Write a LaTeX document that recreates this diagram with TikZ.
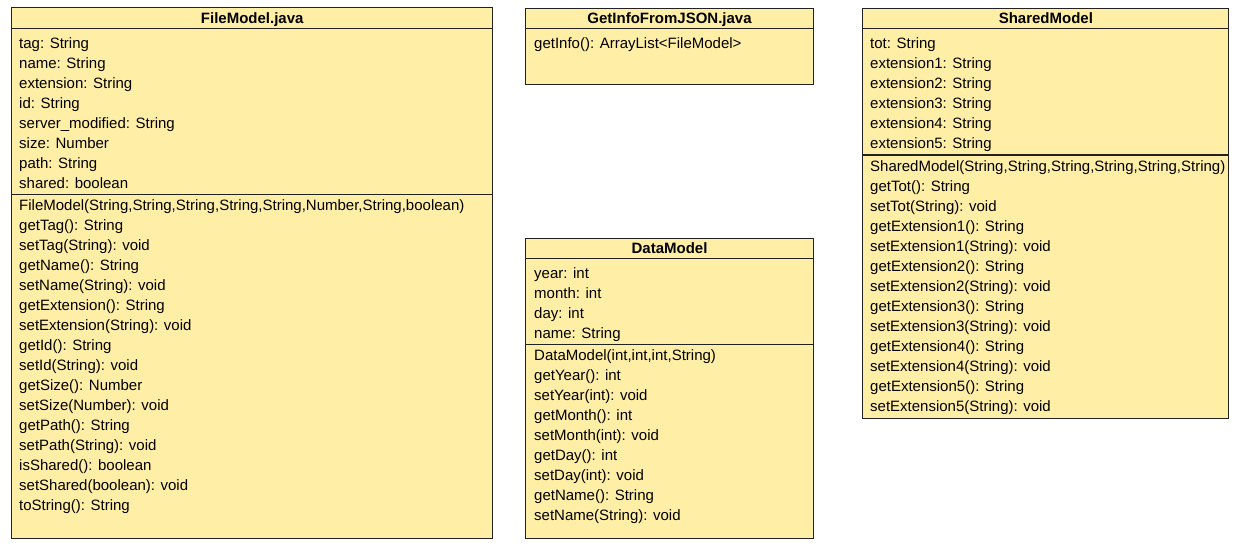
\documentclass[tikz,border=0pt]{standalone}
\usepackage{fontspec}
\setmainfont{Liberation Sans}
\definecolor{umlfill}{HTML}{FFEFA6}
\definecolor{umlline}{HTML}{222222}
\tikzset{
  classbox/.style={draw=umlline, fill=umlfill, line width=1.1pt, rectangle, inner sep=0pt, anchor=north west},
  sepline/.style={draw=umlline, line width=1.1pt},
  title/.style={font=\fontsize{15}{18}\selectfont\bfseries, anchor=base, inner sep=0pt},
  row/.style={font=\fontsize{15}{18}\selectfont, anchor=base west, inner sep=0pt},
}
\begin{document}
\begin{tikzpicture}[x=1pt,y=-1pt]
\useasboundingbox (0,0) rectangle (1240,548);
% ---------- FileModel.java ----------
\node[classbox, minimum width=481.3pt, minimum height=530.4pt] (fm) at (11,7.3) {};
\draw[sepline] (fm.west |- 0,28.7) -- (fm.east |- 0,28.7);
\draw[sepline] (fm.west |- 0,194.3) -- (fm.east |- 0,194.3);
\node[title] (fmt) at (fm.north |- 0,23.3) {FileModel.java};
\foreach \t [count=\i] in {tag: String, name: String, extension: String, id: String,
  server\_modified: String, size: Number, path: String, shared: boolean}
  \node[row] (fma\i) at (19,{28.7+20*\i}) {\t};
\foreach \t [count=\i from 0] in {{FileModel(String,String,String,String,String,Number,String,boolean)},
  getTag(): String, setTag(String): void, getName(): String, setName(String): void,
  getExtension(): String, setExtension(String): void, getId(): String, setId(String): void,
  getSize(): Number, setSize(Number): void, getPath(): String, setPath(String): void,
  isShared(): boolean, setShared(boolean): void, toString(): String}
  \node[row] (fmm\i) at (19,{210.7+20*\i}) {\t};
% ---------- GetInfoFromJSON.java ----------
\node[classbox, minimum width=287.4pt, minimum height=76pt] (gi) at (525.3,8) {};
\draw[sepline] (gi.west |- 0,28.7) -- (gi.east |- 0,28.7);
\node[title] (git) at (gi.north |- 0,23.3) {GetInfoFromJSON.java};
\node[row] (gim1) at (534,48.7) {getInfo(): ArrayList<FileModel>};
% ---------- DataModel ----------
\node[classbox, minimum width=287.4pt, minimum height=300pt] (dm) at (525.3,238) {};
\draw[sepline] (dm.west |- 0,258.7) -- (dm.east |- 0,258.7);
\draw[sepline] (dm.west |- 0,344.3) -- (dm.east |- 0,344.3);
\node[title] (dmt) at (dm.north |- 0,253.3) {DataModel};
\foreach \t [count=\i] in {year: int, month: int, day: int, name: String}
  \node[row] (dma\i) at (534,{258.7+20*\i}) {\t};
\foreach \t [count=\i from 0] in {{DataModel(int,int,int,String)}, getYear(): int, setYear(int): void,
  getMonth(): int, setMonth(int): void, getDay(): int, setDay(int): void,
  getName(): String, setName(String): void}
  \node[row] (dmm\i) at (534,{360.7+20*\i}) {\t};
% ---------- SharedModel ----------
\node[classbox, minimum width=366pt, minimum height=410.3pt] (sm) at (862.3,8) {};
\draw[sepline] (sm.west |- 0,28.7) -- (sm.east |- 0,28.7);
\draw[sepline] (sm.west |- 0,155) -- (sm.east |- 0,155);
\node[title] (smt) at (sm.north |- 0,23.3) {SharedModel};
\foreach \t [count=\i] in {tot: String, extension1: String, extension2: String, extension3: String,
  extension4: String, extension5: String}
  \node[row] (sma\i) at (870,{28.7+20*\i}) {\t};
\foreach \t [count=\i from 0] in {{SharedModel(String,String,String,String,String,String)},
  getTot(): String, setTot(String): void,
  getExtension1(): String, setExtension1(String): void,
  getExtension2(): String, setExtension2(String): void,
  getExtension3(): String, setExtension3(String): void,
  getExtension4(): String, setExtension4(String): void,
  getExtension5(): String, setExtension5(String): void}
  \node[row] (smm\i) at (870,{171.4+20*\i}) {\t};
\end{tikzpicture}
\end{document}
